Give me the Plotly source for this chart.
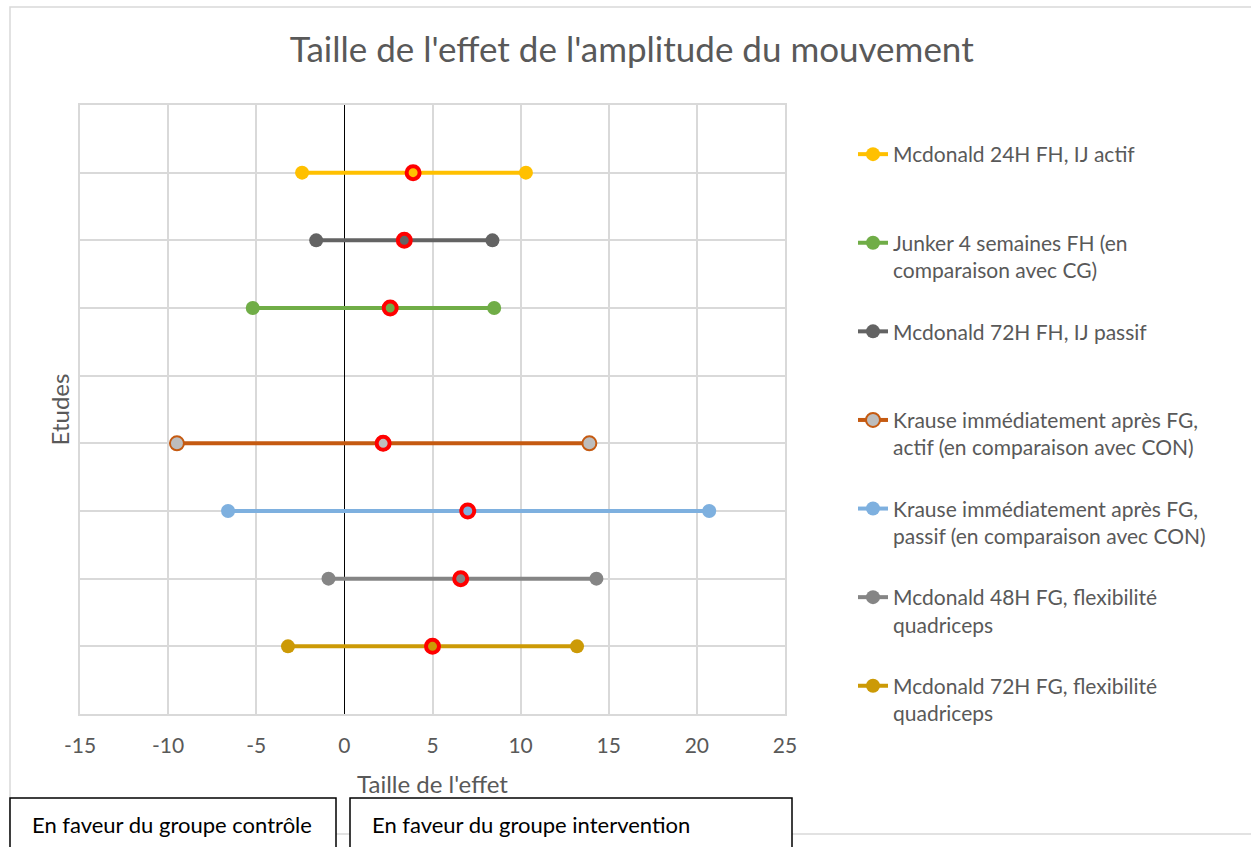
import plotly.graph_objects as go

# ---- data (legend order) ----
names = [
    "Mcdonald 24H FH, IJ actif",
    "Junker 4 semaines FH (en<br>comparaison avec CG)",
    "Mcdonald 72H FH, IJ passif",
    "Krause immédiatement après FG,<br>actif (en comparaison avec CON)",
    "Krause immédiatement après FG,<br>passif (en comparaison avec CON)",
    "Mcdonald 48H FG, flexibilité<br>quadriceps",
    "Mcdonald 72H FG, flexibilité<br>quadriceps",
]
study_row = [8, 6, 7, 4, 3, 2, 1]
low = [-2.4, -5.2, -1.6, -9.5, -6.6, -0.9, -3.2]
mid = [3.9, 2.6, 3.4, 2.2, 7.0, 6.6, 5.0]
high = [10.3, 8.5, 8.4, 13.9, 20.7, 14.3, 13.2]

line_colors = ["#FFC000", "#70AD47", "#636363", "#C55A11", "#7EB0DF", "#858585", "#CC9A06"]
marker_fill = ["#FFC000", "#70AD47", "#636363", "#BDBDBD", "#7EB0DF", "#858585", "#CC9A06"]

x_ticks = [-15, -10, -5, 0, 5, 10, 15, 20, 25]

FONT = "Lato"
TXT = "#595959"

fig = go.Figure()

for i, n in enumerate(names):
    # pad single-line names so all legend items have equal height
    label = n if "<br>" in n else n + "<br> "
    fig.add_trace(go.Scatter(
        x=[low[i], mid[i], high[i]],
        y=[study_row[i]] * 3,
        mode="lines+markers",
        name=label,
        legendgroup=str(i),
        line=dict(color=line_colors[i], width=4),
        marker=dict(size=14, color=marker_fill[i],
                    line=dict(color=line_colors[i], width=2 if marker_fill[i] != line_colors[i] else 0)),
        hoverinfo="x+name",
    ))

for i, n in enumerate(names):
    fig.add_trace(go.Scatter(
        x=[mid[i]], y=[study_row[i]],
        mode="markers",
        showlegend=False,
        marker=dict(size=13, color=marker_fill[i], line=dict(color="#FF0000", width=4)),
        hoverinfo="skip",
    ))

W, H = 1251, 847
L, R, T, B = 80, 466, 105, 133
pw, ph = W - L - R, H - T - B

def px(xp):
    return (xp - L) / pw

def py(yp):
    return (H - B - yp) / ph

shapes = [
    # outer chart border
    dict(type="rect", xref="paper", yref="paper", x0=px(10), x1=px(1260), y0=py(834), y1=py(7),
         line=dict(color="#D9D9D9", width=1.5), layer="below"),
    # bottom boxes
    dict(type="rect", xref="paper", yref="paper", x0=px(10), x1=px(336), y0=py(870), y1=py(798),
         line=dict(color="black", width=1.5), fillcolor="white"),
    dict(type="rect", xref="paper", yref="paper", x0=px(350), x1=px(792), y0=py(870), y1=py(798),
         line=dict(color="black", width=1.5), fillcolor="white"),
]

annotations = [
    dict(text="En faveur du groupe contrôle", xref="paper", yref="paper", x=px(30), y=py(825),
         xanchor="left", yanchor="middle", showarrow=False, font=dict(family=FONT, size=22, color="black")),
    dict(text="En faveur du groupe intervention", xref="paper", yref="paper", x=px(370), y=py(825),
         xanchor="left", yanchor="middle", showarrow=False, font=dict(family=FONT, size=22, color="black")),
]

fig.update_layout(
    width=W, height=H,
    margin=dict(l=L, r=R, t=T, b=B),
    paper_bgcolor="white", plot_bgcolor="white",
    font=dict(family=FONT, size=21, color=TXT),
    title=dict(text="Taille de l'effet de l'amplitude du mouvement", x=0.505, xanchor="center",
               y=1 - 50 / H, yanchor="middle", font=dict(family=FONT, size=35, color=TXT)),
    xaxis=dict(range=[-15, 25], tickvals=x_ticks, ticktext=[str(v) for v in x_ticks],
               showgrid=True, gridcolor="#D9D9D9", gridwidth=1.5,
               zeroline=True, zerolinecolor="black", zerolinewidth=1.2,
               showline=True, linecolor="#D9D9D9", linewidth=1.5, mirror=True,
               ticks="", ticklabelstandoff=12,
               tickfont=dict(family=FONT, size=21, color=TXT),
               title=dict(text="Taille de l'effet", font=dict(family=FONT, size=24, color=TXT), standoff=20)),
    yaxis=dict(range=[0, 9], dtick=1, showticklabels=False,
               showgrid=True, gridcolor="#D9D9D9", gridwidth=1.5,
               zeroline=False, showline=True, linecolor="#D9D9D9", linewidth=1.5, mirror=True,
               ticks="",
               title=dict(text="Etudes", font=dict(family=FONT, size=24, color=TXT), standoff=2)),
    legend=dict(x=px(853), y=py(134), xanchor="left", yanchor="top", valign="top",
                tracegroupgap=31, font=dict(family=FONT, size=21, color=TXT),
                bgcolor="rgba(0,0,0,0)", itemwidth=30),
    shapes=shapes,
    annotations=annotations,
    showlegend=True,
)

fig.write_html("out.html", config={"displayModeBar": False},
               post_script="document.body.style.margin='0';document.body.style.padding='0';")
